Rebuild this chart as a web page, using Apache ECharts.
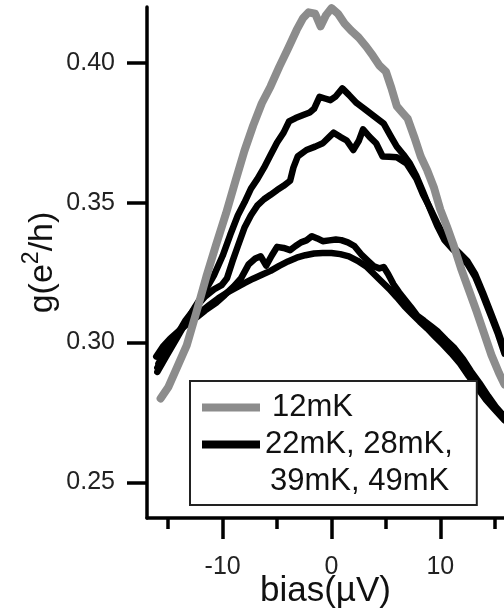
<!DOCTYPE html>
<html>
<head>
<meta charset="utf-8">
<script src="https://cdn.jsdelivr.net/npm/echarts@6/dist/echarts.min.js"></script>
<style>
html,body{margin:0;padding:0;background:#fff;}
#chart{width:504px;height:615px;}
</style>
</head>
<body>
<div id="chart"></div>
<script>
// ---- data (bias in µV, g in e^2/h) ----
const seriesNames = ['12mK', '22mK', '28mK', '39mK', '49mK'];
const legendText = ['12mK', '22mK, 28mK,', '39mK, 49mK'];

const x12 = [-15.7,-15.0,-14.2,-13.3,-12.4,-11.5,-10.6,-9.7,-8.8,-8.0,-7.2,-6.4,-5.6,-4.8,-4.0,-3.2,-2.6,-2.1,-1.5,-1.0,-0.5,0.0,0.6,1.2,1.8,2.5,3.2,3.8,4.4,5.0,5.5,6.0,6.5,7.0,7.6,8.2,8.8,9.4,10.0,10.6,11.2,11.9,12.6,13.3,14.0,14.7,15.4,15.9];
const g12 = [0.2800,0.2840,0.2910,0.2990,0.3110,0.3235,0.3350,0.3460,0.3580,0.3685,0.3775,0.3855,0.3915,0.3985,0.4050,0.4117,0.4160,0.4180,0.4175,0.4130,0.4170,0.4195,0.4175,0.4140,0.4115,0.4090,0.4057,0.4025,0.3990,0.3968,0.3910,0.3845,0.3822,0.3800,0.3735,0.3665,0.3615,0.3555,0.3475,0.3415,0.3350,0.3265,0.3190,0.3115,0.3035,0.2955,0.2890,0.2850];

const x22 = [-16.0,-15.2,-14.3,-13.4,-12.5,-11.6,-10.8,-10.0,-9.3,-8.6,-8.0,-7.4,-6.8,-6.2,-5.6,-5.0,-4.4,-3.9,-3.3,-2.6,-2.0,-1.6,-1.1,-0.6,-0.1,0.4,1.0,1.6,2.3,3.0,3.6,4.2,4.8,5.4,6.0,6.6,7.2,7.8,8.4,9.0,9.7,10.4,11.1,11.8,12.5,13.2,13.9,14.6,15.3,15.9];
const g22 = [0.2895,0.2950,0.3010,0.3070,0.3130,0.3185,0.3240,0.3310,0.3385,0.3455,0.3500,0.3550,0.3585,0.3625,0.3670,0.3715,0.3750,0.3790,0.3802,0.3813,0.3822,0.3835,0.3878,0.3872,0.3866,0.3880,0.3908,0.3885,0.3856,0.3836,0.3818,0.3800,0.3782,0.3740,0.3700,0.3672,0.3640,0.3595,0.3540,0.3482,0.3418,0.3365,0.3335,0.3310,0.3280,0.3235,0.3170,0.3100,0.3030,0.2960];

const x28 = [-16.0,-15.2,-14.3,-13.4,-12.5,-11.6,-10.8,-10.1,-9.6,-9.1,-8.6,-8.0,-7.4,-6.8,-6.2,-5.6,-5.0,-4.4,-3.8,-3.5,-3.1,-2.3,-1.5,-0.8,-0.2,0.2,0.8,1.4,2.0,2.5,2.9,3.5,4.1,4.7,5.3,6.0,6.9,7.8,8.4,9.0,9.7,10.4,11.1,11.8,12.5,13.2,13.9,14.6,15.3,15.9];
const g28 = [0.2910,0.2960,0.3020,0.3080,0.3125,0.3165,0.3190,0.3205,0.3230,0.3290,0.3345,0.3410,0.3455,0.3490,0.3512,0.3528,0.3545,0.3560,0.3578,0.3625,0.3665,0.3688,0.3700,0.3712,0.3735,0.3750,0.3735,0.3722,0.3688,0.3720,0.3762,0.3735,0.3712,0.3665,0.3664,0.3662,0.3640,0.3585,0.3530,0.3485,0.3428,0.3375,0.3345,0.3318,0.3290,0.3245,0.3180,0.3110,0.3040,0.2972];

const x39 = [-16.1,-15.5,-14.8,-14.0,-13.2,-12.4,-11.6,-10.6,-9.8,-9.0,-8.3,-7.6,-7.0,-6.5,-6.0,-5.5,-5.0,-4.4,-3.8,-3.3,-2.8,-2.3,-1.8,-1.3,-0.8,-0.2,0.4,0.9,1.5,2.1,2.8,3.4,3.9,4.4,4.8,5.2,5.7,6.2,6.8,7.3,7.9,8.5,9.1,9.8,10.5,11.3,12.1,12.8,13.6,14.4,15.1,15.9];
const g39 = [0.2950,0.2985,0.3015,0.3042,0.3068,0.3090,0.3115,0.3142,0.3170,0.3200,0.3230,0.3280,0.3300,0.3308,0.3275,0.3310,0.3342,0.3338,0.3330,0.3345,0.3358,0.3365,0.3380,0.3372,0.3362,0.3365,0.3368,0.3366,0.3358,0.3345,0.3312,0.3290,0.3272,0.3265,0.3270,0.3245,0.3208,0.3180,0.3150,0.3126,0.3095,0.3078,0.3060,0.3038,0.3010,0.2980,0.2940,0.2898,0.2855,0.2808,0.2770,0.2735];

const x49 = [-15.9,-15.2,-14.4,-13.6,-12.8,-12.0,-11.2,-10.4,-9.6,-8.8,-8.0,-7.2,-6.4,-5.6,-4.8,-4.0,-3.2,-2.4,-1.6,-0.8,0.0,0.8,1.6,2.4,3.2,3.9,4.6,5.3,6.0,6.7,7.4,8.1,8.8,9.5,10.2,11.0,11.8,12.6,13.4,14.2,15.0,15.9];
const g49 = [0.2925,0.2975,0.3022,0.3058,0.3085,0.3110,0.3135,0.3158,0.3178,0.3195,0.3212,0.3228,0.3242,0.3256,0.3274,0.3290,0.3303,0.3312,0.3318,0.3320,0.3320,0.3316,0.3308,0.3292,0.3272,0.3245,0.3218,0.3192,0.3162,0.3130,0.3102,0.3075,0.3050,0.3022,0.2995,0.2962,0.2925,0.2880,0.2838,0.2795,0.2760,0.2722];

const xMajorTicks = [-10, 0, 10];
const xMinorTicks = [-15, -5, 5, 15];
const yTicks = [0.25, 0.30, 0.35, 0.40];

// ---- build ----
const zip = (xs, ys) => xs.map((x, i) => [x, ys[i]]);
const FONT = 'Liberation Sans, Arial, Helvetica, sans-serif';
const GRAY = '#8c8c8c';
const BLACK = '#000';
const X_MIN = -16.95, X_MAX = 15.85, Y_MIN = 0.2373, Y_MAX = 0.4199;

const blackSets = [[x22, g22], [x28, g28], [x39, g39], [x49, g49]];
const series = [];
blackSets.forEach((s, i) => {
  series.push({
    name: seriesNames[i + 1], type: 'line', data: zip(s[0], s[1]),
    showSymbol: false, symbol: 'none', xAxisIndex: 0,
    lineStyle: { color: BLACK, width: 6.5, cap: 'round', join: 'round' },
    itemStyle: { color: BLACK }, z: 2
  });
});
series.push({
  name: seriesNames[0], type: 'line', data: zip(x12, g12),
  showSymbol: false, symbol: 'none', xAxisIndex: 0,
  lineStyle: { color: GRAY, width: 8, cap: 'round', join: 'round' },
  itemStyle: { color: GRAY }, z: 3
});

const legendMap = {};
legendMap[seriesNames[0]] = legendText[0];
legendMap[seriesNames[1]] = legendText[1];
legendMap[seriesNames[3]] = legendText[2];

const chart = echarts.init(document.getElementById('chart'), null, { renderer: 'canvas' });
chart.setOption({
  animation: false,
  backgroundColor: '#fff',
  grid: { left: 147, top: 7, right: 0, bottom: 97, containLabel: false, outerBoundsMode: 'none' },
  xAxis: [{
    type: 'value', min: X_MIN, max: X_MAX, position: 'bottom',
    axisLine: { show: true, onZero: false, lineStyle: { color: BLACK, width: 3.5 } },
    axisTick: { show: true, inside: false, length: 21, customValues: xMajorTicks, lineStyle: { color: BLACK, width: 3.5 } },
    axisLabel: { show: true, customValues: xMajorTicks, margin: 37, fontSize: 25, color: '#222', fontFamily: FONT },
    splitLine: { show: false },
    name: 'bias(µV)', nameLocation: 'middle', nameGap: 56, nameMoveOverlap: false,
    nameTextStyle: { fontSize: 35, color: '#111', fontFamily: FONT }
  }, {
    type: 'value', min: X_MIN, max: X_MAX, position: 'bottom',
    axisLine: { show: false, onZero: false },
    axisTick: { show: true, inside: false, length: 11, customValues: xMinorTicks, lineStyle: { color: BLACK, width: 3.5 } },
    axisLabel: { show: false }, splitLine: { show: false }
  }],
  yAxis: {
    type: 'value', min: Y_MIN, max: Y_MAX,
    axisLine: { show: true, onZero: false, lineStyle: { color: BLACK, width: 3.5 } },
    axisTick: { show: true, inside: false, length: 20, customValues: yTicks, lineStyle: { color: BLACK, width: 3.5 } },
    axisLabel: { show: true, customValues: yTicks, margin: 32, fontSize: 25, color: '#222', fontFamily: FONT,
      formatter: v => v.toFixed(2) },
    splitLine: { show: false },
    name: '{a|g(e}{s|2}{a|/h)}', nameLocation: 'middle', nameGap: 82, nameRotate: 90, nameMoveOverlap: false,
    nameTextStyle: {
      color: '#111', fontFamily: FONT, fontSize: 34,
      rich: {
        a: { fontSize: 34, color: '#111', fontFamily: FONT },
        s: { fontSize: 23, color: '#111', fontFamily: FONT, padding: [0, 0, 22, 0] }
      }
    }
  },
  legend: {
    orient: 'vertical', left: 190, top: 381,
    padding: [11, 24, 8, 12], itemGap: 6, itemWidth: 58, itemHeight: 8,
    borderColor: '#222', borderWidth: 2, backgroundColor: '#fff',
    selectedMode: false,
    textStyle: { fontSize: 31, lineHeight: 30, color: '#111', fontFamily: FONT },
    formatter: name => legendMap[name],
    data: [
      { name: seriesNames[0], icon: 'rect', itemStyle: { color: GRAY }, textStyle: { padding: [0, 0, 0, 7] } },
      { name: seriesNames[1], icon: 'rect', itemStyle: { color: BLACK } },
      { name: seriesNames[3], icon: 'rect', itemStyle: { color: 'rgba(0,0,0,0)', opacity: 0 }, textStyle: { padding: [0, 0, 0, 5] } }
    ]
  },
  series: series
});
</script>
</body>
</html>
